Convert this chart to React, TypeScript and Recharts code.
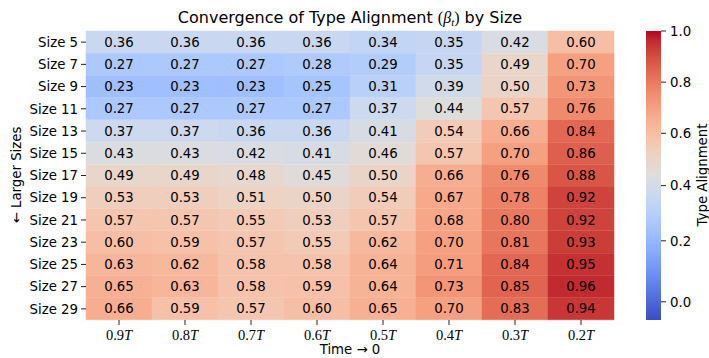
import { Bar, BarChart, Cell, LabelList, XAxis, YAxis } from "recharts";

const sizes = [5, 7, 9, 11, 13, 15, 17, 19, 21, 23, 25, 27, 29];
const timeLabels = ["0.9", "0.8", "0.7", "0.6", "0.5", "0.4", "0.3", "0.2"];

// one array per time column, rows are Size 5 .. Size 29
const at09 = [0.36, 0.27, 0.23, 0.27, 0.37, 0.43, 0.49, 0.53, 0.57, 0.6, 0.63, 0.65, 0.66];
const at08 = [0.36, 0.27, 0.23, 0.27, 0.37, 0.43, 0.49, 0.53, 0.57, 0.59, 0.62, 0.63, 0.59];
const at07 = [0.36, 0.27, 0.23, 0.27, 0.36, 0.42, 0.48, 0.51, 0.55, 0.57, 0.58, 0.58, 0.57];
const at06 = [0.36, 0.28, 0.25, 0.27, 0.36, 0.41, 0.45, 0.5, 0.53, 0.55, 0.58, 0.59, 0.6];
const at05 = [0.34, 0.29, 0.31, 0.37, 0.41, 0.46, 0.5, 0.54, 0.57, 0.62, 0.64, 0.64, 0.65];
const at04 = [0.35, 0.35, 0.39, 0.44, 0.54, 0.57, 0.66, 0.67, 0.68, 0.7, 0.71, 0.73, 0.7];
const at03 = [0.42, 0.49, 0.5, 0.57, 0.66, 0.7, 0.76, 0.78, 0.8, 0.81, 0.84, 0.85, 0.83];
const at02 = [0.6, 0.7, 0.73, 0.76, 0.84, 0.86, 0.88, 0.92, 0.92, 0.93, 0.95, 0.96, 0.94];
const columns = [at09, at08, at07, at06, at05, at04, at03, at02];

const cbTicks = [0, 0.2, 0.4, 0.6, 0.8, 1.0];

// colour norm (value -> position in the map)
const normValues = [-0.063, 0, 0.2, 0.4, 0.6, 0.8, 1.0];
const normFractions = [0, 0.063, 0.274, 0.465, 0.646, 0.823, 1];

// matplotlib coolwarm, 33 stops
const coolwarm = [
  [59, 76, 192], [68, 90, 204], [77, 104, 215], [87, 117, 225], [98, 130, 234],
  [108, 142, 241], [119, 154, 247], [130, 165, 251], [141, 176, 254], [152, 185, 255],
  [163, 194, 255], [174, 201, 253], [184, 208, 249], [194, 213, 244], [204, 217, 238],
  [213, 219, 230], [221, 221, 221], [229, 216, 209], [236, 211, 197], [241, 204, 185],
  [245, 196, 173], [247, 187, 160], [247, 177, 148], [247, 166, 135], [244, 154, 123],
  [241, 141, 111], [236, 127, 99], [229, 112, 88], [222, 96, 77], [213, 80, 66],
  [203, 62, 56], [192, 40, 47], [180, 4, 38],
];

function norm(v: number) {
  for (let i = 1; i < normValues.length; i++) {
    if (v <= normValues[i]) {
      const t = (v - normValues[i - 1]) / (normValues[i] - normValues[i - 1]);
      return normFractions[i - 1] + t * (normFractions[i] - normFractions[i - 1]);
    }
  }
  return 1;
}

function cmap(f: number) {
  const x = Math.max(0, Math.min(1, f)) * (coolwarm.length - 1);
  const i = Math.min(Math.floor(x), coolwarm.length - 2);
  const t = x - i;
  const a = coolwarm[i];
  const b = coolwarm[i + 1];
  const c = a.map((v, k) => Math.round(v + (b[k] - v) * t));
  return `rgb(${c[0]},${c[1]},${c[2]})`;
}

const rows = sizes.map((s, r) => {
  const row: Record<string, number | string> = { size: `Size ${s}` };
  columns.forEach((col, i) => {
    row[`c${i}`] = 1;
    row[`v${i}`] = col[r];
  });
  return row;
});

const FONT = "DejaVu Sans, sans-serif";
const MATH = "Liberation Serif, serif";
const normTicks = cbTicks.map(norm);

function TimeTick({ x, y, payload }: any) {
  const label = timeLabels[Math.round(payload.value - 0.5)];
  return (
    <text x={x} y={y + 13} textAnchor="middle" fontFamily={MATH} fontSize={14.5} fill="#000">
      {label}
      <tspan fontStyle="italic">T</tspan>
    </text>
  );
}

export default function App() {
  return (
    <div style={{ position: "absolute", left: 0, top: 0, width: 709, height: 358, background: "#fff" }}>
      <BarChart
        width={709}
        height={358}
        data={rows}
        layout="vertical"
        margin={{ top: 31, right: 95, left: 0, bottom: 0 }}
        barCategoryGap={0}
        barGap={0}
      >
        <XAxis
          type="number"
          domain={[0, 8]}
          ticks={[0.5, 1.5, 2.5, 3.5, 4.5, 5.5, 6.5, 7.5]}
          height={38}
          axisLine={false}
          tickSize={5}
          tickLine={{ stroke: "#222" }}
          tick={<TimeTick />}
          interval={0}
        />
        <YAxis
          type="category"
          dataKey="size"
          width={86}
          axisLine={false}
          tickSize={5}
          tickMargin={3}
          tickLine={{ stroke: "#222" }}
          tick={{ fill: "#000", fontSize: 13.3, fontFamily: FONT }}
          interval={0}
        />
        {columns.map((col, i) => (
          <Bar key={i} dataKey={`c${i}`} stackId="s" isAnimationActive={false}>
            {col.map((v, r) => (
              <Cell key={r} fill={cmap(norm(v))} stroke={cmap(norm(v))} strokeWidth={0.5} />
            ))}
            <LabelList
              dataKey={`v${i}`}
              position="center"
              formatter={(v: any) => Number(v).toFixed(2)}
              fill="#000"
              fontSize={13.3}
              fontFamily={FONT}
            />
          </Bar>
        ))}
      </BarChart>

      {/* colorbar */}
      <div style={{ position: "absolute", left: 630, top: 0 }}>
        <BarChart
          width={79}
          height={358}
          data={[{ name: "cb", v: 1 }]}
          margin={{ top: 31, right: 0, left: 16, bottom: 38 }}
          barCategoryGap={0}
        >
          <defs>
            <linearGradient id="cw" x1="0" y1="1" x2="0" y2="0">
              {coolwarm.map((c, i) => (
                <stop key={i} offset={i / (coolwarm.length - 1)} stopColor={`rgb(${c[0]},${c[1]},${c[2]})`} />
              ))}
            </linearGradient>
          </defs>
          <XAxis dataKey="name" hide />
          <YAxis
            type="number"
            orientation="right"
            domain={[0, 1]}
            ticks={normTicks}
            width={48}
            axisLine={false}
            tickSize={5}
            tickMargin={4}
            tickLine={{ stroke: "#222" }}
            tick={{ fill: "#000", fontSize: 13.3, fontFamily: FONT, textAnchor: "start" }}
            tickFormatter={(v: number) => {
              let best = 0;
              normTicks.forEach((n, i) => {
                if (Math.abs(n - v) < Math.abs(normTicks[best] - v)) best = i;
              });
              return cbTicks[best].toFixed(1);
            }}
          />
          <Bar dataKey="v" fill="url(#cw)" isAnimationActive={false} />
        </BarChart>
      </div>

      <svg
        width={709}
        height={358}
        style={{ position: "absolute", left: 0, top: 0, pointerEvents: "none" }}
      >
        <text x={350} y={22.5} textAnchor="middle" fontFamily={FONT} fontSize={16} fill="#000">
          Convergence of Type Alignment{" "}
          <tspan fontFamily={MATH}>(</tspan>
          <tspan fontFamily={MATH} fontStyle="italic">β</tspan>
          <tspan fontFamily={MATH} fontStyle="italic" fontSize={11} dy={3}>t</tspan>
          <tspan fontFamily={MATH} dy={-3}>)</tspan>
          <tspan> by Size</tspan>
        </text>
        <text x={350} y={354} textAnchor="middle" fontFamily={FONT} fontSize={13.3} fill="#000">
          Time → 0
        </text>
        <text
          x={21}
          y={175}
          transform="rotate(-90, 21, 175)"
          textAnchor="middle"
          fontFamily={FONT}
          fontSize={13.3}
          fill="#000"
        >
          ← Larger Sizes
        </text>
        <text
          x={707}
          y={175}
          transform="rotate(-90, 707, 175)"
          textAnchor="middle"
          fontFamily={FONT}
          fontSize={13.3}
          fill="#000"
        >
          Type Alignment
        </text>
      </svg>
    </div>
  );
}
